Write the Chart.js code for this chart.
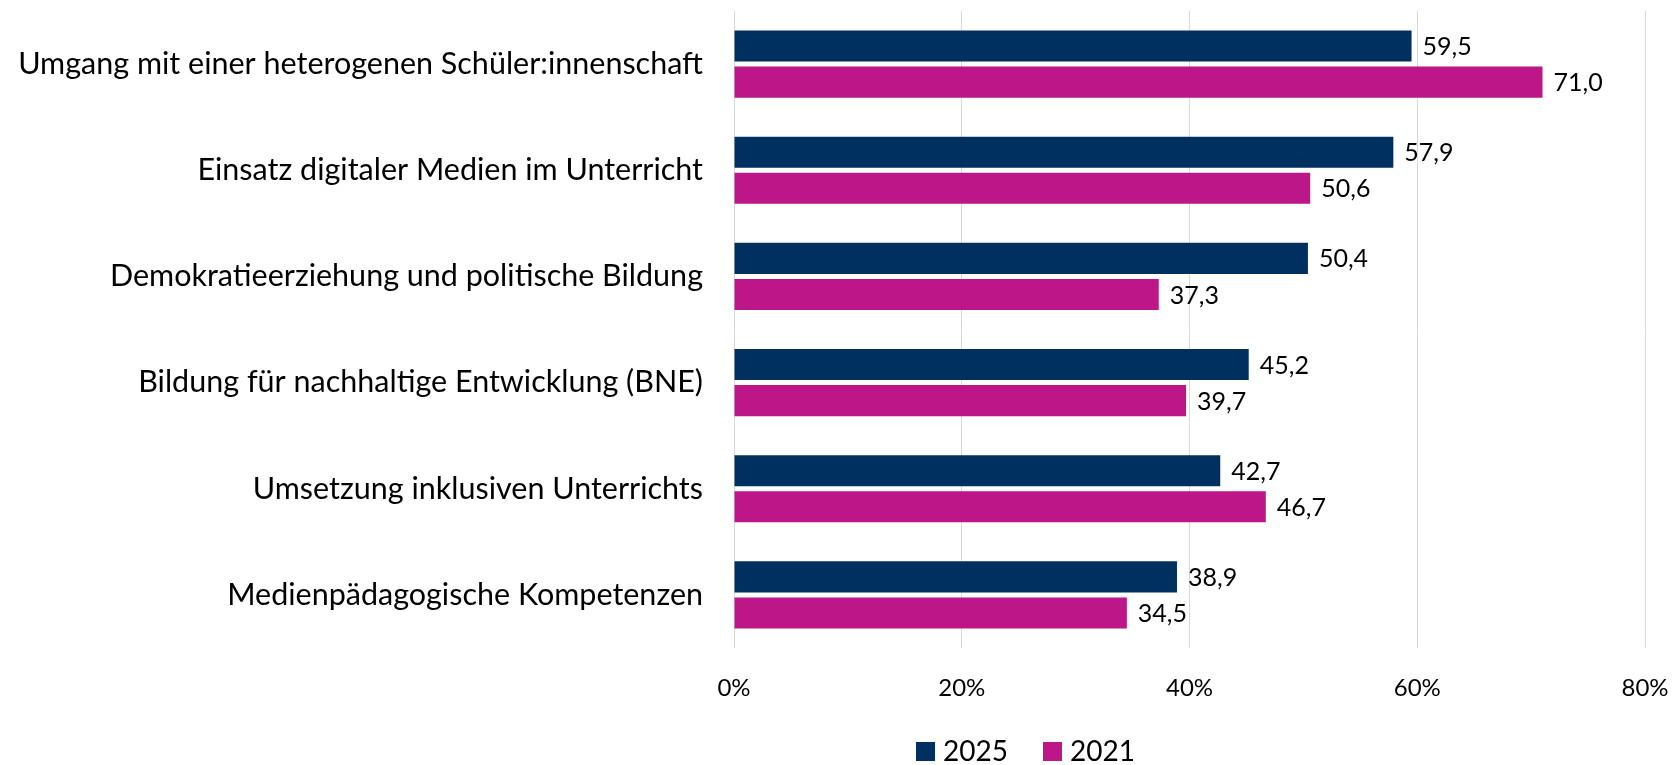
<!DOCTYPE html>
<html>
<head>
<meta charset="utf-8">
<script src="https://cdn.jsdelivr.net/npm/chart.js@4"></script>
<style>
  html, body { margin: 0; padding: 0; background: #fff; }
  #wrap { width: 1680px; height: 765px; }
</style>
</head>
<body>
<div id="wrap"><canvas id="chart" width="1680" height="765"></canvas></div>
<script>
/* ---------- data ---------- */
const categories = [
  'Umgang mit einer heterogenen Schüler:innenschaft',
  'Einsatz digitaler Medien im Unterricht',
  'Demokratieerziehung und politische Bildung',
  'Bildung für nachhaltige Entwicklung (BNE)',
  'Umsetzung inklusiven Unterrichts',
  'Medienpädagogische Kompetenzen'
];
const values2025 = [59.5, 57.9, 50.4, 45.2, 42.7, 38.9];
const values2021 = [71.0, 50.6, 37.3, 39.7, 46.7, 34.5];
const seriesLabels = ['2025', '2021'];
const seriesColors = ['#00305f', '#bd1688'];

const FONT = 'Lato, "Open Sans", sans-serif';

/* ---------- plugins ---------- */
// value labels next to the bars, German decimal comma
const valueLabels = {
  id: 'valueLabels',
  afterDatasetsDraw(chart) {
    const ctx = chart.ctx;
    ctx.save();
    ctx.font = '25px ' + FONT;
    ctx.fillStyle = '#000';
    ctx.textAlign = 'left';
    ctx.textBaseline = 'middle';
    chart.data.datasets.forEach((ds, i) => {
      chart.getDatasetMeta(i).data.forEach((bar, j) => {
        const txt = ds.data[j].toFixed(1).replace('.', ',');
        ctx.fillText(txt, bar.x + 11, bar.y + 1);
      });
    });
    ctx.restore();
  }
};

// legend under the chart
const bottomLegend = {
  id: 'bottomLegend',
  afterDraw(chart) {
    const ctx = chart.ctx;
    ctx.save();
    ctx.font = '28px ' + FONT;
    ctx.textBaseline = 'middle';
    ctx.textAlign = 'left';
    const xs = [916, 1043];
    const y = 752;
    chart.data.datasets.forEach((ds, i) => {
      ctx.fillStyle = ds.backgroundColor;
      ctx.fillRect(xs[i], y - 10, 19, 19);
      ctx.fillStyle = '#000';
      ctx.fillText(ds.label, xs[i] + 27, y);
    });
    ctx.restore();
  }
};

/* ---------- chart ---------- */
new Chart(document.getElementById('chart').getContext('2d'), {
  type: 'bar',
  data: {
    labels: categories,
    datasets: [
      { label: seriesLabels[0], data: values2025, backgroundColor: seriesColors[0] },
      { label: seriesLabels[1], data: values2021, backgroundColor: seriesColors[1] }
    ]
  },
  options: {
    indexAxis: 'y',
    responsive: false,
    animation: false,
    categoryPercentage: 0.68,
    barPercentage: 0.86,
    layout: { padding: { top: 11, right: 35, bottom: 0, left: 0 } },
    plugins: {
      legend: { display: false },
      tooltip: { enabled: false }
    },
    scales: {
      x: {
        min: 0,
        max: 80,
        ticks: {
          stepSize: 20,
          padding: 26,
          color: '#000',
          font: { family: FONT, size: 24 },
          callback: v => v + '%'
        },
        grid: { color: '#d9d9d9', lineWidth: 1, drawTicks: false },
        border: { display: false },
        afterFit: s => {
          s.height = 117;
          s.paddingLeft = 0;
          s.paddingRight = 0;
        }
      },
      y: {
        ticks: {
          padding: 23,
          color: '#000',
          font: { family: FONT, size: 30.5 }
        },
        grid: { display: false },
        border: { display: false },
        afterFit: s => {
          s.width = 734;
          s.paddingTop = 0;
          s.paddingBottom = 0;
        }
      }
    }
  },
  plugins: [valueLabels, bottomLegend]
});
</script>
</body>
</html>
